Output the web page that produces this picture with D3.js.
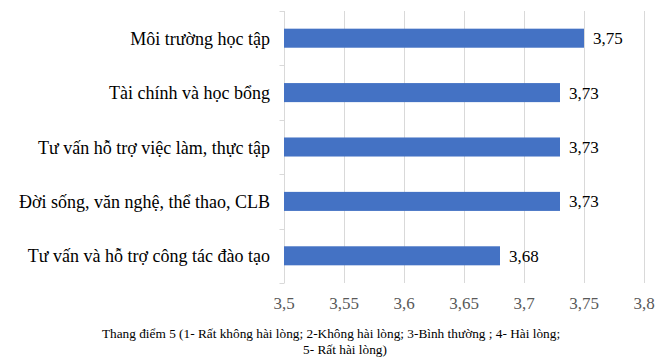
<!DOCTYPE html>
<html><head><meta charset="utf-8">
<script src="https://cdn.jsdelivr.net/npm/d3@7"></script>
</head><body style="margin:0"><svg id="c" width="657" height="357" font-family="Liberation Serif"></svg>
<script>
const categories = ["Môi trường học tập","Tài chính và học bổng","Tư vấn hỗ trợ việc làm, thực tập ","Đời sống,  văn nghệ, thể thao, CLB","Tư vấn và hỗ trợ công tác đào tạo"];
const values = [3.75, 3.73, 3.73, 3.73, 3.68];
const ticks = [3.5, 3.55, 3.6, 3.65, 3.7, 3.75, 3.8];
const captionLines = ["Thang điểm 5 (1- Rất không hài lòng; 2-Không hài lòng; 3-Bình thường ; 4- Hài lòng;","5- Rất hài lòng)"];

const svg = d3.select("#c");
const ff = `"Liberation Serif", monospace`;
const x = d3.scaleLinear().domain([3.5, 3.8]).range([284, 644]);
const y = d3.scaleBand().domain(categories).range([11, 283]).paddingInner(0.65).paddingOuter(0.325);
const yb = d3.scaleBand().domain(categories).range([11, 283]);

svg.append("g").selectAll("line").data(ticks.slice(1)).join("line")
  .attr("x1", d => x(d) + 0.5).attr("x2", d => x(d) + 0.5).attr("y1", 11).attr("y2", 283)
  .attr("stroke", "#d9d9d9").attr("stroke-width", 1);

const ga = svg.append("g").attr("transform", "translate(284.5,0)");
ga.append("path").attr("d", "M0,11V283").attr("stroke", "#d9d9d9").attr("fill", "none");
const edges = categories.map(c => yb(c)).concat([283]);
ga.selectAll("line.t").data(edges).join("line").attr("class","t")
  .attr("x1", -5).attr("x2", 0).attr("y1", d => Math.round(d)+0.5).attr("y2", d => Math.round(d)+0.5)
  .attr("stroke", "#d9d9d9");

svg.append("g").selectAll("rect").data(values).join("rect")
  .attr("x", x(3.5)).attr("y", (d, i) => y(categories[i]))
  .attr("width", d => x(d) - x(3.5)).attr("height", y.bandwidth())
  .attr("fill", "#4472c4");

svg.append("g").selectAll("text").data(ticks).join("text")
  .attr("x", d => x(d)).attr("y", 309).attr("text-anchor", "middle")
  .style("font-family", ff).style("font-size", "17px").style("fill", "#595959")
  .text(d => String(d).replace(".", ","));

svg.append("g").selectAll("text").data(values).join("text")
  .attr("x", d => x(d) + 9).attr("y", (d, i) => y(categories[i]) + y.bandwidth()/2 + 6)
  .style("font-family", ff).style("font-size", "17px").style("fill", "#000")
  .text(d => d.toFixed(2).replace(".", ","));

svg.append("g").selectAll("text").data(categories).join("text")
  .attr("x", 270).attr("y", d => y(d) + y.bandwidth()/2 + 6.5)
  .attr("text-anchor", "end")
  .style("font-family", ff).style("font-size", "18px").style("fill", "#000")
  .text(d => d);

svg.append("g").selectAll("text").data(captionLines).join("text")
  .attr("x", (d, i) => i === 0 ? 331 : 345).attr("y", (d, i) => 338 + i * 16)
  .attr("text-anchor", "middle").style("font-family", ff).style("font-size", "13.3px").style("fill", "#000")
  .text(d => d);
</script></body></html>
